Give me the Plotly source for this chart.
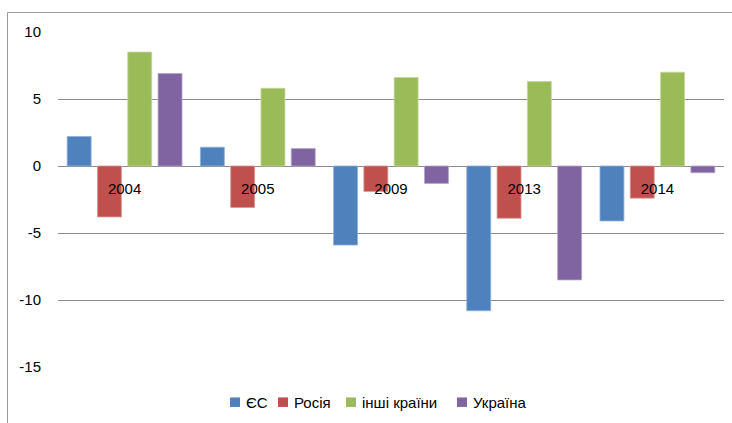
import plotly.graph_objects as go

# Categories (years) and series values
years = ["2004", "2005", "2009", "2013", "2014"]
eu = [2.2, 1.4, -5.9, -10.8, -4.1]
russia = [-3.8, -3.1, -1.9, -3.9, -2.4]
others = [8.5, 5.8, 6.6, 6.3, 7.0]
ukraine = [6.9, 1.3, -1.3, -8.5, -0.5]

series_names = ["ЄС", "Росія", "інші країни", "Україна"]
series_values = [eu, russia, others, ukraine]
colors = ["#4F81BD", "#C0504D", "#9BBB59", "#8064A2"]
edges = ["#8FB0D8", "#D99694", "#C3D69B", "#B3A2C7"]

y_ticks = [-15, -10, -5, 0, 5, 10]
y_tick_text = [str(v) for v in y_ticks]

W, H = 732, 423
ML, MR, MT, MB = 58, 8, 31.5, 56
pw, ph = W - ML - MR, H - MT - MB
FONT = "Liberation Sans, Arial, sans-serif"

def px_x(p):
    return (p - ML) / pw

def px_y(p):
    return (H - MB - p) / ph

fig = go.Figure()
for name, vals, c, e in zip(series_names, series_values, colors, edges):
    fig.add_trace(go.Bar(
        x=years, y=vals, name=name, showlegend=False,
        marker=dict(color=c, line=dict(color=e, width=0.8)),
    ))

# Legend drawn as swatches + labels along the bottom
legend_left = [230, 278, 346, 457]
shapes = []
annotations = []
for name, c, lx in zip(series_names, colors, legend_left):
    shapes.append(dict(type="rect", xref="paper", yref="paper",
                       x0=px_x(lx), x1=px_x(lx + 10),
                       y0=px_y(407), y1=px_y(397.5),
                       fillcolor=c, line=dict(width=0)))
    annotations.append(dict(xref="paper", yref="paper",
                            x=px_x(lx + 14), y=px_y(402.5),
                            xanchor="left", yanchor="middle",
                            text=name, showarrow=False,
                            font=dict(family=FONT, size=15, color="#000000")))

# Outer chart frame (top and left edges)
shapes += [
    dict(type="line", xref="paper", yref="paper",
         x0=px_x(7.5), x1=px_x(7.5), y0=px_y(12), y1=-0.3,
         line=dict(color="#9A9A9A", width=1)),
    dict(type="line", xref="paper", yref="paper",
         x0=px_x(7.5), x1=1.1, y0=px_y(12), y1=px_y(12),
         line=dict(color="#9A9A9A", width=1)),
]

ymin, ymax = -15, 10
fig.update_layout(
    width=W, height=H,
    margin=dict(l=ML, r=MR, t=MT, b=MB, autoexpand=False),
    paper_bgcolor="white", plot_bgcolor="white",
    barmode="group", bargap=0.09, bargroupgap=0.21,
    font=dict(family=FONT, size=15, color="#000000"),
    showlegend=False,
    xaxis=dict(
        type="category", anchor="free",
        position=(0 - ymin) / (ymax - ymin),
        showline=False, showgrid=False, zeroline=False,
        ticks="", ticklabelstandoff=12,
        tickfont=dict(size=15),
    ),
    yaxis=dict(
        range=[ymin, ymax], tickvals=y_ticks, ticktext=y_tick_text,
        showgrid=True, gridcolor="#8C8C8C", gridwidth=1,
        zeroline=True, zerolinecolor="#8C8C8C", zerolinewidth=1,
        showline=False, ticks="", ticklabelstandoff=16,
        tickfont=dict(size=15),
    ),
    shapes=shapes,
    annotations=annotations,
)

fig.write_html("out.html")
